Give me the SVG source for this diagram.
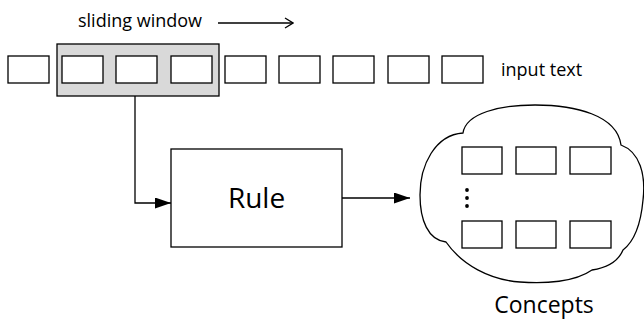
<svg xmlns="http://www.w3.org/2000/svg" width="644" height="331" viewBox="0 0 644 331">
<style>
.b{fill:#fff;stroke:#000;stroke-width:1.3}
.ln{fill:none;stroke:#000;stroke-width:1.3}
.t{font-family:"Open Sans","Liberation Sans",sans-serif;fill:#000}
</style>
<defs>
<marker id="fa" markerWidth="16" markerHeight="11" refX="16" refY="5.5" orient="auto" markerUnits="userSpaceOnUse">
<path d="M0,0 L16,5.5 L0,11 Z" fill="#000"/>
</marker>
<marker id="oa" markerWidth="10" markerHeight="12" refX="9" refY="6" orient="auto" markerUnits="userSpaceOnUse">
<path d="M1,1 L9,6 L1,11" fill="none" stroke="#000" stroke-width="1.3"/>
</marker>
</defs>
<rect width="644" height="331" fill="#fff"/>
<g id="window-label">
<text class="t" x="78" y="27" font-size="18">sliding window</text>
<line class="ln" x1="218" y1="23" x2="293" y2="23" marker-end="url(#oa)"/>
</g>
<g id="window">
<rect x="57" y="44" width="162" height="52" fill="#d9d9d9" stroke="#000" stroke-width="1.3"/>
</g>
<g id="input-text">
<rect class="b" x="8" y="56" width="41" height="27"/>
<rect class="b" x="62" y="56" width="41" height="27"/>
<rect class="b" x="116" y="56" width="41" height="27"/>
<rect class="b" x="171" y="56" width="41" height="27"/>
<rect class="b" x="225" y="56" width="41" height="27"/>
<rect class="b" x="279" y="56" width="41" height="27"/>
<rect class="b" x="333" y="56" width="41" height="27"/>
<rect class="b" x="388" y="56" width="41" height="27"/>
<rect class="b" x="442" y="56" width="41" height="27"/>
<text class="t" x="501" y="76" font-size="18">input text</text>
</g>
<g id="rule">
<rect class="b" x="171" y="149" width="171" height="98"/>
<text class="t" x="256.5" y="208" font-size="28" text-anchor="middle">Rule</text>
</g>
<g id="concepts">
<path class="b" d="M463,133 C466,113 500,105 535,105 C575,105 617,115 621,145 C640,152 646,175 643,200 C641,222 636,240 623,250 C618,262 605,268 592,270 C575,282 545,284 520,282 C490,280 462,265 446,242 C428,240 420,220 420,195 C420,165 435,135 463,133 Z"/>
<rect class="b" x="462" y="147" width="40" height="27"/>
<rect class="b" x="516" y="147" width="40" height="27"/>
<rect class="b" x="570" y="147" width="41" height="27"/>
<rect class="b" x="462" y="221" width="40" height="27"/>
<rect class="b" x="516" y="221" width="40" height="27"/>
<rect class="b" x="570" y="221" width="41" height="27"/>
<circle cx="467" cy="190" r="1.9" fill="#000"/>
<circle cx="467" cy="198" r="1.9" fill="#000"/>
<circle cx="467" cy="206" r="1.9" fill="#000"/>
<text class="t" x="544" y="313" font-size="23" text-anchor="middle">Concepts</text>
</g>
<g id="connectors">
<polyline class="ln" points="135,96 135,203 171,203" marker-end="url(#fa)"/>
<line class="ln" x1="342" y1="198" x2="410" y2="198" marker-end="url(#fa)"/>
</g>
</svg>
